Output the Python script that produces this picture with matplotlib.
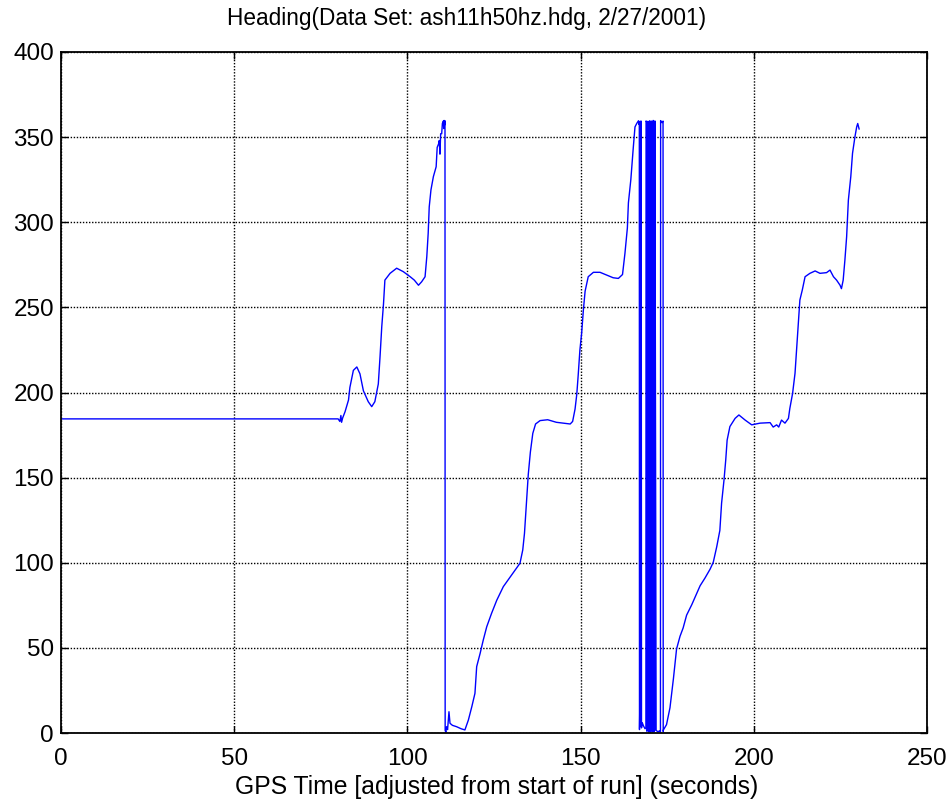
import matplotlib
matplotlib.use("Agg")
import matplotlib.pyplot as plt
import numpy as np

plt.rcParams['font.family'] = ['Liberation Sans', 'DejaVu Sans']

# ---- data (time [s], heading [deg]) ----
t_flat = [0.0, 20.0, 40.0, 60.0, 80.0, 80.5, 80.8, 81.0, 81.3]
h_flat = [184.5, 184.5, 184.5, 184.5, 184.5, 183.0, 186.5, 182.5, 185.0]

t_turn1 = [82.0, 83.0, 83.4, 84.4, 85.4, 86.3, 87.3, 88.7, 89.7, 90.6, 91.6, 92.1,
           92.6, 93.1, 93.5, 95.0, 96.9, 98.8, 100.8, 102.0, 103.2, 104.1, 105.1,
           105.6, 106.0, 106.3, 106.8, 107.5, 108.3, 108.6, 109.0, 109.2, 109.4,
           109.6, 109.9, 110.1, 110.4, 110.5, 110.6, 110.7, 110.85]
h_turn1 = [188.7, 195.6, 203.0, 213.0, 215.0, 211.0, 201.0, 194.6, 191.7, 194.6, 205.0, 221.0,
           238.7, 252.0, 266.0, 270.0, 273.0, 271.0, 268.0, 266.0, 263.0, 265.0, 268.0,
           279.8, 293.5, 309.0, 319.0, 326.8, 332.6, 344.0, 346.0, 348.0, 340.0,
           352.0, 352.0, 358.0, 359.5, 355.0, 359.8, 357.0, 359.6]

t_turn2 = [110.9, 111.1, 111.3, 111.6, 112.0, 112.3, 113.0, 114.2, 115.5, 116.6, 117.6,
           118.6, 119.5, 120.0, 121.0, 121.9, 122.9, 124.3, 125.8, 127.7, 130.1, 132.5,
           133.3, 133.8, 134.1, 134.4, 134.9, 135.5, 136.2, 137.0, 138.3, 140.5, 143.0,
           145.0, 147.0, 147.7, 148.4, 148.9, 149.3, 149.8, 150.3, 150.8, 151.3, 152.2,
           153.7, 155.6, 157.5, 159.4, 160.9, 162.1, 162.8, 163.5, 163.8, 164.5, 165.2,
           165.7, 166.2]
h_turn2 = [1.5, 0.5, 3.7, 2.0, 12.5, 5.7, 4.5, 3.7, 2.5, 1.8, 7.6,
           15.5, 23.3, 39.0, 46.8, 54.6, 62.4, 70.3, 78.0, 86.0, 92.8, 99.7,
           107.5, 117.3, 127.0, 137.0, 152.0, 165.0, 176.0, 181.5, 183.5, 184.0, 182.5,
           182.0, 181.5, 183.0, 190.3, 199.0, 210.0, 225.0, 234.8, 248.4, 259.5, 268.0,
           270.6, 270.6, 269.0, 267.4, 267.0, 269.3, 281.7, 296.6, 311.4, 325.0, 343.6,
           356.0, 358.0]

t_wrap = [166.7, 166.85, 166.95, 167.0, 167.08, 167.15, 167.25, 167.3, 167.42, 167.5,
          167.58, 167.8, 168.2, 168.6, 168.85, 168.9, 169.1, 169.15, 169.4, 169.45,
          169.65, 169.7, 169.9, 169.95, 170.15, 170.2, 170.4, 170.45, 170.65, 170.7,
          170.9, 170.95, 171.15, 171.2, 171.4, 171.45, 171.8, 172.3, 172.8, 173.05,
          173.1, 173.3, 173.5, 173.8, 173.85]
h_wrap = [359.6, 357.5, 359.2, 2.0, 14.0, 4.0, 9.0, 358.5, 359.5, 358.0,
          3.0, 6.0, 4.0, 2.5, 3.0, 359.5, 358.8, 1.0, 2.5, 359.3,
          358.6, 0.8, 1.5, 359.6, 358.9, 0.5, 1.8, 359.4, 358.7, 1.2,
          0.6, 359.8, 359.0, 0.9, 1.6, 359.5, 1.5, 0.8, 1.2, 0.6,
          359.7, 359.0, 358.5, 359.4, 0.8]

t_turn3 = [173.9, 174.8, 175.8, 176.8, 177.7, 178.7, 179.6, 180.6, 182.1, 184.5, 185.9,
           187.4, 188.3, 189.3, 190.2, 190.7, 191.4, 191.9, 192.3, 193.1, 194.6, 195.7,
           197.5, 199.4, 201.8, 204.7, 205.6, 206.6, 207.2, 208.0, 209.0, 210.0, 210.4,
           211.2, 211.9, 212.4, 212.9, 213.3, 214.0, 214.8, 216.2, 217.7, 219.1, 221.0,
           222.0, 223.0, 223.9, 224.9, 225.3, 225.8, 226.3, 226.8, 227.3, 228.0, 228.5,
           229.2, 229.7, 230.0, 230.4]
h_turn3 = [1.8, 4.9, 14.8, 32.0, 49.3, 56.8, 61.7, 69.2, 75.4, 86.5, 91.0,
           96.3, 100.3, 109.4, 119.0, 135.0, 148.6, 160.4, 172.0, 180.0, 184.8, 186.8,
           183.8, 181.0, 182.0, 182.3, 179.7, 181.0, 179.7, 183.8, 182.0, 184.8, 190.6,
           199.5, 211.3, 227.0, 242.6, 254.3, 260.2, 268.0, 270.0, 271.4, 270.0, 270.4,
           271.9, 268.0, 266.0, 263.0, 261.0, 266.0, 277.8, 291.5, 313.0, 326.8, 340.5,
           350.2, 356.0, 358.0, 354.8]

time_s = np.array(t_flat + t_turn1 + t_turn2 + t_wrap + t_turn3)
heading_deg = np.array(h_flat + h_turn1 + h_turn2 + h_wrap + h_turn3)

x_ticks = [0, 50, 100, 150, 200, 250]
y_ticks = [0, 50, 100, 150, 200, 250, 300, 350, 400]

title_text = "Heading(Data Set: ash11h50hz.hdg, 2/27/2001)"
xlabel_text = "GPS Time [adjusted from start of run] (seconds)"

# ---- figure ----
W, H = 951, 806
fig = plt.figure(figsize=(W / 100, H / 100), dpi=100)
ax = fig.add_axes([61 / W, 1 - 733 / H, 866 / W, 681 / H])

ax.plot(time_s, heading_deg, color='#0000ff', linewidth=1.0)

ax.set_xlim(0, 250)
ax.set_ylim(0, 400)
ax.set_xticks(x_ticks)
ax.set_yticks(y_ticks)
ax.tick_params(direction='in', top=True, right=True, length=5, width=1,
               labelsize=17.5)
ax.tick_params(axis='x', pad=10.5)
ax.tick_params(axis='y', pad=5)
ax.grid(True, color='black', linestyle=(0, (1, 1.2)), linewidth=1.0)
for sp in ax.spines.values():
    sp.set_linewidth(1.3)

fig.text(467 / W, 1 - 18 / H, title_text, ha='center', va='center', fontsize=16.3)
fig.text(497 / W, 1 - 787 / H, xlabel_text, ha='center', va='center', fontsize=17.8)

fig.savefig("out.png", dpi=100, facecolor='white')
